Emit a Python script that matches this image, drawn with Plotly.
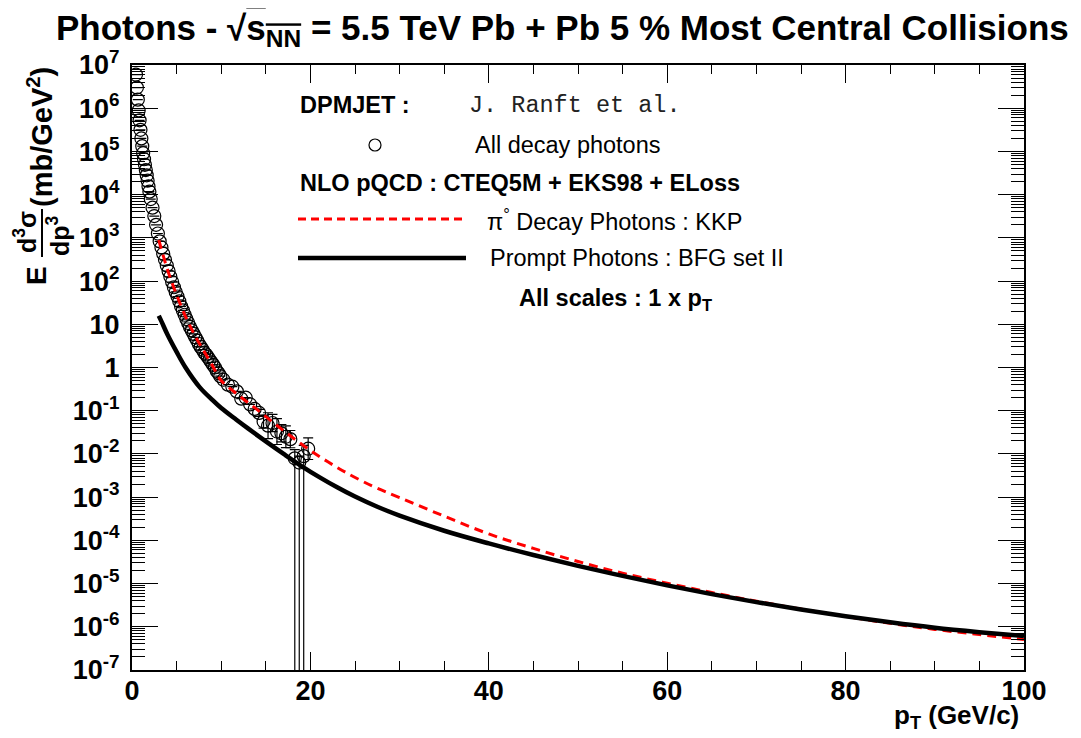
import plotly.graph_objects as go

# ---------------- data ----------------
pt_data = [0.45, 0.55, 0.65, 0.75, 0.85, 0.95, 1.05, 1.15, 1.25, 1.35, 1.45, 1.55, 1.65, 1.75, 1.85, 1.95,
           2.1, 2.3, 2.5, 2.7, 2.9, 3.1, 3.3, 3.5, 3.7, 3.9, 4.1, 4.3, 4.5, 4.7, 4.9, 5.1, 5.3, 5.5, 5.7, 5.9,
           6.1, 6.3, 6.5, 6.7, 6.9, 7.1, 7.3, 7.5, 7.7, 7.9, 8.1, 8.3, 8.5, 8.7, 8.9, 9.1, 9.3, 9.5, 9.7, 9.9,
           10.25, 10.75, 11.25, 11.75, 12.25, 12.75, 13.25, 13.75, 14.25, 14.75, 15.25, 15.75, 16.25, 16.75,
           17.25, 17.75, 18.25, 18.75, 19.25, 19.75]
y_data = [6.0e6, 3.0e6, 1.58e6, 8.9e5, 5.25e5, 3.16e5, 2.0e5, 1.32e5, 9.1e4, 6.6e4, 4.9e4, 3.7e4, 2.8e4, 2.1e4, 1.55e4, 1.17e4,
          7.9e3, 5.0e3, 3.2e3, 2.0e3, 1.26e3, 830, 600, 430, 310, 230, 170, 126, 95, 72, 56, 44, 34, 26, 21, 16.6,
          13.2, 10.7, 8.7, 7.2, 6.0, 5.0, 4.2, 3.5, 3.0, 2.6, 2.2, 2.0, 1.74, 1.51, 1.32, 1.15, 1.0, 0.83, 0.74, 0.63,
          0.52, 0.40, 0.36, 0.28, 0.19, 0.20, 0.14, 0.11, 0.089, 0.056, 0.045, 0.052, 0.033, 0.030,
          0.025, 0.022, 0.0079, 0.0063, 0.0089, 0.0132]
# error sizes in decades (0 = hidden inside marker); 12 = bar runs below the axis
err_up_dec = [0] * 64 + [0.08, 0.15, 0.30, 0.20, 0.30, 0.20, 0.25, 0.20, 0.20, 0.15, 0.25, 0.25]
err_dn_dec = [0] * 64 + [0.08, 0.15, 0.30, 0.20, 0.30, 0.20, 0.25, 0.20, 12, 12, 12, 0.25]

pt_pi0 = [3, 4, 5, 6, 7, 8, 9, 10, 12, 14, 16, 18, 20, 22, 24, 27, 30, 35, 40, 45, 50, 55, 60, 65, 70, 75, 80, 85, 90, 95, 100]
y_pi0 = [891, 178, 47.9, 15.1, 5.75, 2.51, 1.12, 0.50, 0.224, 0.107, 0.050, 0.024, 0.012, 6.5e-3, 3.7e-3, 1.78e-3, 9.8e-4,
         3.63e-4, 1.41e-4, 6.5e-5, 3.24e-5, 1.74e-5, 1.02e-5, 6.2e-6, 3.9e-6, 2.57e-6, 1.74e-6, 1.2e-6, 8.7e-7, 6.6e-7, 5.1e-7]

pt_prompt = [3, 3.3, 4, 5, 6, 7.6, 9, 10, 11.7, 13, 15, 17, 19, 21, 23, 25, 27.5, 30, 35, 40, 45, 50, 55, 60, 65, 70,
             75, 80, 85, 90, 95, 100]
y_prompt = [15.8, 11.7, 5.62, 2.29, 1.0, 0.347, 0.178, 0.115, 0.0617, 0.0389, 0.0195, 0.0100, 5.25e-3, 2.91e-3, 1.69e-3,
            1.03e-3, 5.98e-4, 3.73e-4, 1.67e-4, 8.5e-5, 4.57e-5, 2.57e-5, 1.51e-5, 9.1e-6, 5.69e-6, 3.72e-6, 2.51e-6,
            1.76e-6, 1.27e-6, 9.5e-7, 7.5e-7, 6.1e-7]

x_ticks = [0, 20, 40, 60, 80, 100]
y_exps = list(range(-7, 8))

# ---------------- layout geometry (page pixels) ----------------
OFF = 8                      # default body margin of the html page
FIG_W, FIG_H = 1065, 730
L, R, T, B = 132, 1024, 65, 670
FONT = "Liberation Sans"


def px2x(px):
    return (px - L) / (R - L)


def px2y(py):
    return (B - py) / (B - T)


err_plus = [y * (10 ** e - 1) for y, e in zip(y_data, err_up_dec)]
err_minus = [y * (1 - 10 ** (-e)) for y, e in zip(y_data, err_dn_dec)]

fig = go.Figure()
fig.add_trace(go.Scatter(
    x=pt_data, y=y_data, mode="markers",
    marker=dict(symbol="circle-open", size=13, color="black", line=dict(width=1.2, color="black")),
    error_y=dict(type="data", array=err_plus, arrayminus=err_minus, symmetric=False,
                 color="black", thickness=1.2, width=5),
    showlegend=False))
fig.add_trace(go.Scatter(
    x=pt_pi0, y=y_pi0, mode="lines", line=dict(color="#ff0000", width=3, dash="9px,6px", shape="spline", smoothing=1.0),
    showlegend=False))
fig.add_trace(go.Scatter(
    x=pt_prompt, y=y_prompt, mode="lines", line=dict(color="black", width=4.5, shape="spline", smoothing=1.0),
    showlegend=False))
# empty trace to carry the mirrored (top / right) tick axes
fig.add_trace(go.Scatter(x=[], y=[], xaxis="x2", yaxis="y2", showlegend=False, hoverinfo="skip"))

tick_text_y = []
for e in y_exps:
    if e == 0:
        tick_text_y.append("<b>1</b>")
    elif e == 1:
        tick_text_y.append("<b>10</b>")
    else:
        tick_text_y.append("<b>10<sup>%d</sup></b>" % e)

TICKF = dict(size=27, family=FONT, color="black")
x_common = dict(range=[0, 100], tickvals=x_ticks, ticks="inside", ticklen=18, tickwidth=1.3, tickcolor="black",
                showline=True, linewidth=2, linecolor="black", showgrid=False, zeroline=False,
                minor=dict(dtick=5, ticks="inside", ticklen=9, tickwidth=1.3, tickcolor="black", showgrid=False))
y_common = dict(type="log", range=[-7, 7], tickvals=[10 ** e for e in y_exps], ticks="inside", ticklen=26,
                tickwidth=1.3, tickcolor="black", showline=True, linewidth=2, linecolor="black",
                showgrid=False, zeroline=False,
                minor=dict(dtick="D1", ticks="inside", ticklen=13, tickwidth=1.1, tickcolor="black", showgrid=False))

fig.update_layout(
    width=FIG_W, height=FIG_H,
    margin=dict(l=L - OFF, r=OFF + FIG_W - R, t=T - OFF, b=OFF + FIG_H - B),
    paper_bgcolor="white", plot_bgcolor="white",
    font=dict(family=FONT, color="black"),
    xaxis=dict(**x_common, ticktext=["<b>%d</b>" % v for v in x_ticks], tickfont=TICKF, ticklabelstandoff=-4),
    yaxis=dict(**y_common, ticktext=tick_text_y, tickfont=TICKF, ticklabelstandoff=5),
    xaxis2=dict(**x_common, overlaying="x", side="top", anchor="y2", showticklabels=False),
    yaxis2=dict(**y_common, overlaying="y", side="right", anchor="x2", showticklabels=False),
)

ann = []


def add_text(text, x_px, y_px, size, xanchor="left", family=FONT, angle=0, color="black"):
    ann.append(dict(text=text, x=px2x(x_px), y=px2y(y_px), xref="paper", yref="paper",
                    xanchor=xanchor, yanchor="middle", showarrow=False, textangle=angle,
                    font=dict(size=size, family=family, color=color)))


# title
add_text("<b>Photons - √<span style='text-decoration:overline'>s<sub>NN</sub></span> = 5.5 TeV Pb + Pb 5 % Most Central Collisions</b>",
         562, 30, 35, xanchor="center")
# legend block
add_text("<b>DPMJET :</b>", 298, 105, 23.5)
add_text("J. Ranft et al.", 467, 105, 23.5, family="Liberation Mono", color="#222222")
add_text("All decay photons", 473, 145, 23.5)
add_text("<b>NLO pQCD : CTEQ5M + EKS98 + ELoss</b>", 298, 183, 23.5)
add_text("π<sup>°</sup> Decay Photons : KKP", 485, 220, 23.5)
add_text("Prompt Photons : BFG set II", 488, 258, 23.5)
add_text("<b>All scales : 1 x p<sub>T</sub></b>", 517, 299, 23.5)
# axis titles
add_text("<b>p<sub>T</sub> (GeV/c)</b>", 1021, 716, 26, xanchor="right")
add_text("<b>E</b>", 36, 276, 28, xanchor="center", angle=-90)
add_text("<b>d<sup>3</sup>σ</b>", 25, 232, 25, xanchor="center", angle=-90)
add_text("<b>dp<sup>3</sup></b>", 58, 236, 25, xanchor="center", angle=-90)
add_text("<b>(mb/GeV<sup>2</sup>)</b>", 40, 137, 29, xanchor="center", angle=-90)

shapes = [
    dict(type="line", xref="paper", yref="paper", x0=px2x(298), x1=px2x(466), y0=px2y(219), y1=px2y(219),
         line=dict(color="#ff0000", width=3, dash="8px,5px")),
    dict(type="line", xref="paper", yref="paper", x0=px2x(298), x1=px2x(466), y0=px2y(258), y1=px2y(258),
         line=dict(color="black", width=4.5)),
    dict(type="circle", xref="paper", yref="paper", x0=px2x(369), x1=px2x(381), y0=px2y(151), y1=px2y(139),
         line=dict(color="black", width=1.2)),
    dict(type="line", xref="paper", yref="paper", x0=px2x(42), x1=px2x(42), y0=px2y(209), y1=px2y(257),
         line=dict(color="black", width=2)),
]
fig.update_layout(annotations=ann, shapes=shapes)

fig.write_html("out.html")
